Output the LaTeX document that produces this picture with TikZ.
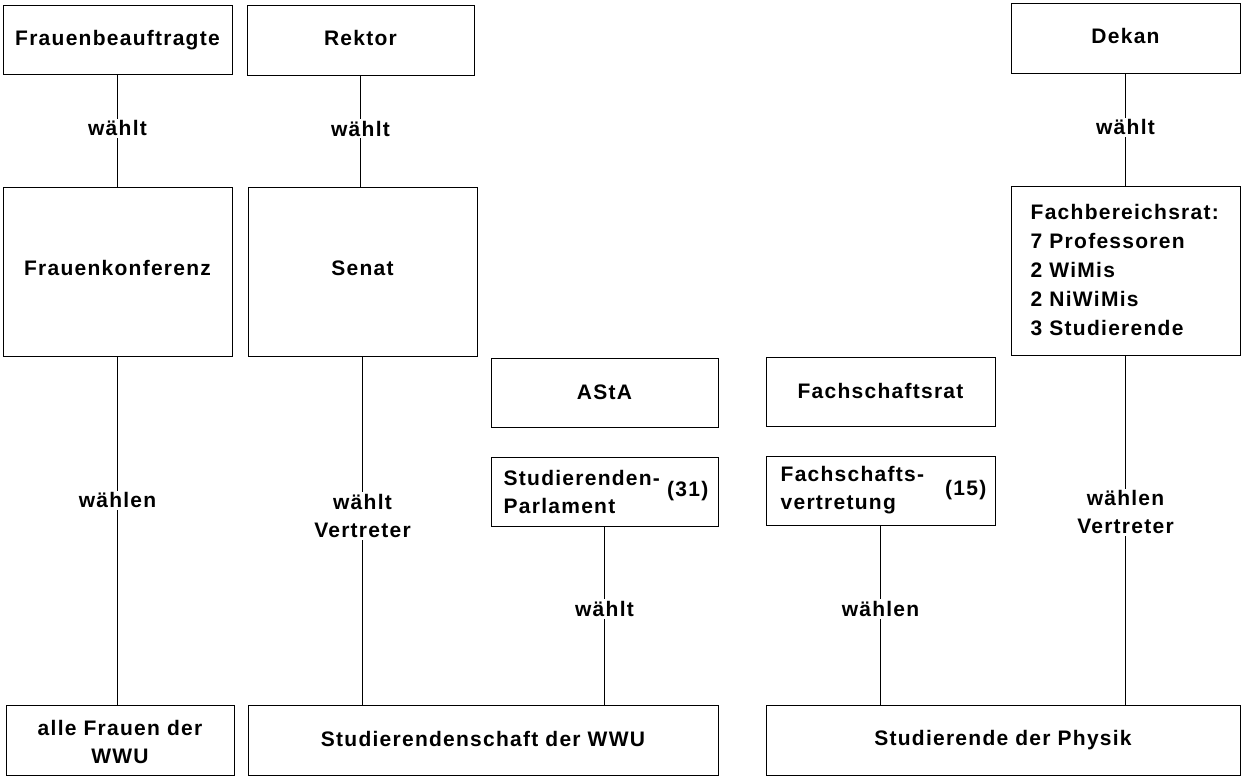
\documentclass[tikz,border=0pt]{standalone}
\usepackage{fontspec}
\setmainfont{Liberation Sans}[LetterSpace=6]
\begin{document}
\begin{tikzpicture}[x=1pt,y=-1pt,
  font=\fontsize{21}{28}\selectfont\bfseries,
  box/.style={draw, line width=1pt, inner sep=0pt, align=center},
  tx/.style={text height=15pt, text depth=#1},
  txt/.style={inner sep=0pt, align=left},
  lbl/.style={fill=white, inner sep=2pt, align=center},
  conn/.style={line width=1pt}]
\useasboundingbox[fill=white] (0,0) rectangle (1246,782);
% top row
\node[box, tx=3.6pt, minimum width=229pt, minimum height=69pt] (fb) at (117.5,39.5) {Frauenbeauftragte};
\node[box, tx=4.6pt, minimum width=227pt, minimum height=70pt] (rk) at (360.5,40) {Rektor};
\node[box, tx=4.6pt, minimum width=229pt, minimum height=70pt] (dk) at (1125.5,38) {Dekan};
% second row
\node[box, tx=7.6pt, minimum width=229pt, minimum height=169pt] (fk) at (117.5,271.5) {Frauenkonferenz};
\node[box, tx=7.6pt, minimum width=229pt, minimum height=169pt] (sn) at (362.5,271.5) {Senat};
\node[box, minimum width=229pt, minimum height=169pt] (fbr) at (1125.5,270.5) {};
\node[txt, anchor=west, font=\fontsize{21}{29}\selectfont\bfseries] (fbrt) at ([xshift=20pt]fbr.west) {Fachbereichsrat:\\7 Professoren\\2 WiMis\\2 NiWiMis\\3 Studierende};
% middle
\node[box, tx=1.6pt, minimum width=227pt, minimum height=69pt] (asta) at (604.5,392.5) {AStA};
\node[box, tx=1.6pt, minimum width=229pt, minimum height=69pt] (fsr) at (880.5,391.5) {Fachschaftsrat};
\node[box, minimum width=227pt, minimum height=69pt] (sp) at (604.5,491.5) {};
\node[txt, anchor=west] (spt) at ([xshift=13pt]sp.west) {Studierenden-\\Parlament};
\node[txt, anchor=east] (spn) at ([xshift=-10pt]sp.east) {(31)};
\node[box, minimum width=229pt, minimum height=69pt] (fsv) at (880.5,490.5) {};
\node[txt, anchor=west] (fsvt) at ([xshift=15pt]fsv.west) {Fachschafts-\\vertretung};
\node[txt, anchor=east] (fsvn) at ([xshift=-9pt]fsv.east) {(15)};
% bottom row
\node[box, text height=48pt, minimum width=228pt, minimum height=70pt] (af) at (120,740) {alle Frauen der\\WWU};
\node[box, tx=2.6pt, minimum width=470pt, minimum height=70pt] (sws) at (483,740) {Studierendenschaft der WWU};
\node[box, tx=4.6pt, minimum width=474pt, minimum height=70pt] (sdp) at (1003,740) {Studierende der Physik};
% connectors
\draw[conn] (fb.south) -- node[lbl, pos=0.48] {wählt} (fk.north);
\draw[conn] (rk.south) -- node[lbl, pos=0.48] {wählt} (rk.south |- sn.north);
\draw[conn] (dk.south) -- node[lbl, pos=0.48] {wählt} (fbr.north);
\draw[conn] (fk.south) -- node[lbl, pos=0.413] {wählen} (fk.south |- af.north);
\draw[conn] (sn.south) -- node[lbl, pos=0.458] {wählt\\Vertreter} (sn.south |- sws.north);
\draw[conn] (sp.south) -- node[lbl, pos=0.464] {wählt} (sp.south |- sws.north);
\draw[conn] (fsv.south) -- node[lbl, pos=0.467] {wählen} (fsv.south |- sdp.north);
\draw[conn] (fbr.south) -- node[lbl, pos=0.449] {wählen\\Vertreter} (fbr.south |- sdp.north);
\end{tikzpicture}
\end{document}
